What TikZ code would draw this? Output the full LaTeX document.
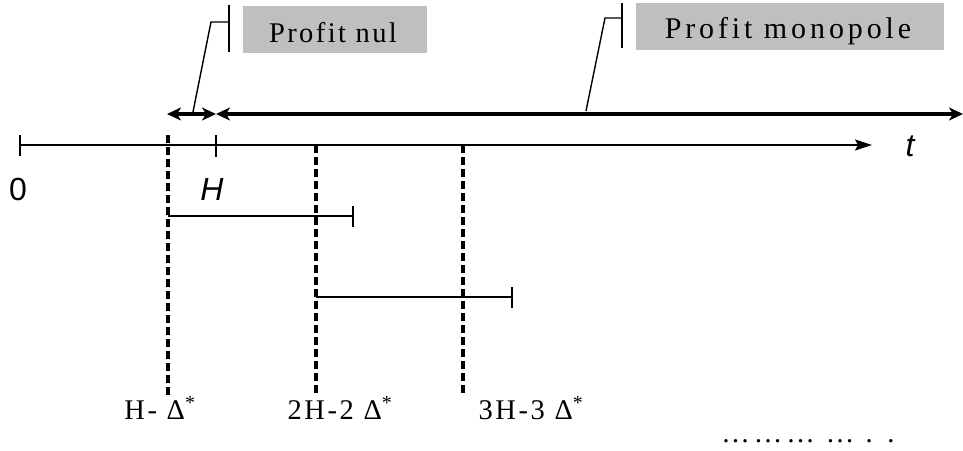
\documentclass[tikz,border=0pt]{standalone}
\usepackage{fontspec}
\setmainfont{Liberation Serif}
\newfontfamily\axisfont{Liberation Sans}
\usetikzlibrary{arrows.meta}
\begin{document}
\begin{tikzpicture}[x=1pt,y=-1pt,
  thinline/.style={line width=1.6pt},
  bigline/.style={line width=4.5pt, >={Stealth[length=14pt,width=13pt,inset=4pt]}},
  guide/.style={line width=3.5pt, dash pattern=on 8pt off 4pt},
  leader/.style={line width=1.4pt},
  tagbox/.style={fill=black!25, draw=none},
  tagtext/.style={inner sep=0pt, anchor=base},
  axislabel/.style={inner sep=0pt, font=\axisfont\fontsize{32}{34}\selectfont},
  stepmark/.style={inner sep=0pt, anchor=base, font=\fontsize{28.5}{32}\selectfont\addfontfeature{LetterSpace=9}}
]
\useasboundingbox (0,0) rectangle (963,450);

% time axis with its two ticks
\coordinate (o) at (20,145);
\coordinate (h) at (216,145);
\coordinate (tend) at (872,145);
\draw[thinline,-{Stealth[length=17pt,width=11pt,inset=3pt]}] (o) -- (tend);
\draw[thinline] (20,135) -- (20,156);
\draw[thinline] (216,135) -- (216,157);
\node[axislabel] (t) at (910,146) {\itshape t};
\node[axislabel] (zero) at (18,189) {0};
\node[axislabel] (hh) at (212,189) {\itshape H};

% dashed guides
\coordinate (g1t) at (168,135); \coordinate (g1b) at (168,396);
\coordinate (g2t) at (316,145); \coordinate (g2b) at (316,396);
\coordinate (g3t) at (463,145); \coordinate (g3b) at (463,396);
\draw[guide] (g1t) -- (g1b);
\draw[guide] (g2t) -- (g2b);
\draw[guide] (g3t) -- (g3b);

% periods of length H
\coordinate (p1a) at (168,216); \coordinate (p1b) at (353,216);
\draw[thinline] (p1a) -- (p1b);
\draw[thinline] (353,206) -- (353,227);
\coordinate (p2a) at (316,297); \coordinate (p2b) at (512,297);
\draw[thinline] (p2a) -- (p2b);
\draw[thinline] (512,287) -- (512,308);

% profit regimes
\coordinate (r0) at (167,114);
\coordinate (r1) at (216,114);
\coordinate (r2) at (963,114);
\draw[bigline,<->] (r0) -- (r1);
\draw[bigline,<->] (r1) -- (r2);

% callout: zero profit
\fill[tagbox] (243,6) rectangle (427,53);
\node[tagtext, font=\fontsize{28.5}{32}\selectfont\addfontfeature{LetterSpace=8.5}] (nul) at (333,42) {Profit nul};
\coordinate (c1a) at (193,112);
\coordinate (c1b) at (211,22);
\coordinate (c1c) at (229,22);
\draw[leader] (c1a) -- (c1b) -- (c1c);
\draw[leader] (229,5) -- (229,52);

% callout: monopoly profit
\fill[tagbox] (636,3) rectangle (944,50);
\node[tagtext, font=\fontsize{30}{34}\selectfont\addfontfeature{LetterSpace=13}] (mono) at (788,38) {Profit monopole};
\coordinate (c2a) at (586,111);
\coordinate (c2b) at (605,18);
\coordinate (c2c) at (622,18);
\draw[leader] (c2a) -- (c2b) -- (c2c);
\draw[leader] (622,3) -- (622,48);

% renewal dates
\node[stepmark] (d1) at (160,419) {H- Δ\textsuperscript{*}};
\node[stepmark] (d2) at (340,419) {2H-2 Δ\textsuperscript{*}};
\node[stepmark] (d3) at (531,419) {3H-3 Δ\textsuperscript{*}};
\node[stepmark, font=\fontsize{28.5}{32}\selectfont\addfontfeature{LetterSpace=14}] (d4) at (808,442) {……… … . .};
\end{tikzpicture}
\end{document}
